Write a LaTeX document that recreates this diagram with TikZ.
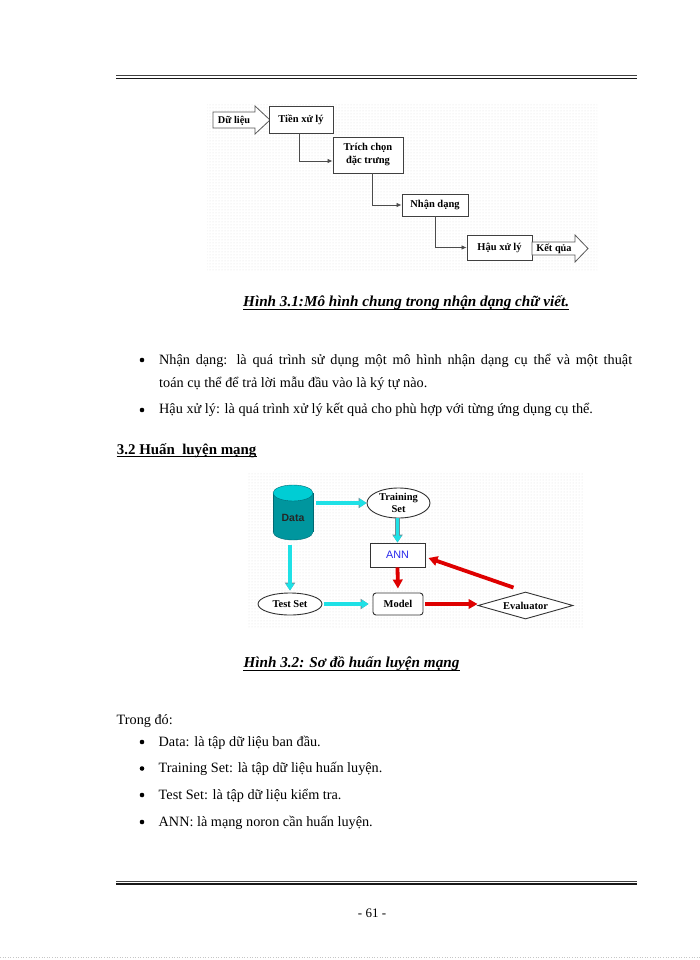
\documentclass[tikz,border=0pt]{standalone}
\usepackage{fontspec}
\setmainfont{Liberation Serif}
\newfontfamily\sansf{Liberation Sans}
\usetikzlibrary{shapes.geometric,arrows.meta,patterns}
\definecolor{cyanA}{RGB}{30,225,230}
\definecolor{cyanO}{RGB}{110,140,150}
\definecolor{tealbody}{RGB}{0,150,158}
\definecolor{tealtop}{RGB}{0,205,212}
\definecolor{tealdark}{RGB}{0,105,115}
\definecolor{redA}{RGB}{222,0,0}
\definecolor{annblue}{RGB}{40,40,235}
\begin{document}
\begin{tikzpicture}[x=1pt,y=-1pt,
  box/.style={draw=black!75, line width=0.9pt, inner sep=0pt, fill=white,
    font=\fontsize{10.5}{12}\selectfont\bfseries, align=center},
  lbl/.style={inner sep=0pt, font=\fontsize{10.3}{12}\selectfont\bfseries},
  blk/.style={draw=black!65, line width=0.8pt, fill=white},
  conn/.style={draw=black!70, line width=0.8pt, -{Latex[length=5pt,width=4.5pt]}},
  fig/.style={inner sep=0pt, font=\fontsize{10.5}{11.5}\selectfont\bfseries, align=center},
  cyanarrow/.style={draw=cyanA, line width=3.2pt,
    -{Triangle[length=7pt,width=8.5pt]},
    preaction={draw=cyanO, line width=4.6pt, -{Triangle[length=8pt,width=10pt]}}},
  redarrow/.style={draw=redA, line width=3.8pt, -{Triangle[length=9pt,width=9.5pt]}},
  body/.style={anchor=base west, inner sep=0pt, font=\fontsize{14.25}{16}\selectfont},
  captext/.style={anchor=base west, inner sep=0pt, font=\fontsize{15.2}{17}\selectfont\bfseries\itshape},
  bul/.style={circle, fill=black, inner sep=0pt, minimum size=4.6pt},
  rulethin/.style={draw=black!75, line width=1pt},
  rulethick/.style={draw=black!90, line width=1.6pt}
]
\useasboundingbox (0,0) rectangle (700,960);
\fill[white] (0,0) rectangle (700,960);

% header rule
\draw[rulethin] (116,75.5) -- (637,75.5);
\draw[rulethick] (116,78.5) -- (637,78.5);

% ---------- Figure 3.1 ----------
\fill[pattern=dots, pattern color=gray!25] (207,103) rectangle (597,270);

\draw[blk] (213,112) -- (255,112) -- (255,106) -- (270,120) -- (255,134) -- (255,128) -- (213,128) -- cycle;
\node[lbl] (dulieu) at (234,120.5) {Dữ liệu};

\node[box, minimum width=64pt, minimum height=27pt] (tien) at (301,119.5) {Tiền xử lý};
\node[box, minimum width=70pt, minimum height=36pt] (trich) at (368,155) {Trích chọn\\[1pt]đặc trưng};
\node[box, minimum width=66pt, minimum height=22pt] (nhan) at (435,205) {Nhận dạng};
\node[box, minimum width=65pt, minimum height=25pt] (hau) at (499.5,247.5) {Hậu xử lý};

\draw[blk] (532,242) -- (575,242) -- (575,235) -- (588,248.5) -- (575,262) -- (575,255) -- (532,255) -- cycle;
\node[lbl] (ketqua) at (554,249) {Kết qủa};

\draw[conn] ([xshift=-2pt]tien.south) |- ([yshift=-6pt]trich.west);
\draw[conn] ([xshift=4pt]trich.south) |- (nhan.west);
\draw[conn] (nhan.south) |- (hau.west);

\node[captext] (cap1) at (243,306.5) {Hình 3.1:Mô hình chung trong nhận dạng chữ viết.};
\draw[line width=0.8pt] ([yshift=-3.3pt]cap1.base west) -- ([yshift=-3.3pt]cap1.base east);

% bullets
\node[bul] (b1) at (142,360) {};
\node[body] (l1) at (159,364) {\makebox[473pt][s]{Nhận dạng: là quá trình sử dụng một mô hình nhận dạng cụ thể và một thuật}};
\node[body] (l2) at (159,387) {toán cụ thể để trả lời mẫu đầu vào là ký tự nào.};
\node[bul] (b2) at (142,410) {};
\node[body] (l3) at (159,413.3) {Hậu xử lý: là quá trình xử lý kết quả cho phù hợp với từng ứng dụng cụ thể.};

% heading
\node[body, font=\fontsize{14.9}{16}\selectfont\bfseries] (h32) at (116.7,454) {3.2 Huấn\hspace{0.5em}luyện mạng};
\draw[line width=0.8pt] ([yshift=-2.7pt]h32.base west) -- ([yshift=-2.7pt]h32.base east);

% ---------- Figure 3.2 ----------
\fill[pattern=dots, pattern color=gray!25] (247,473) rectangle (583,627);

\node[ellipse, draw=tealdark, fill=tealbody, minimum width=40pt, minimum height=16pt, inner sep=0pt] (cylbot) at (293,532) {};
\fill[tealbody] (273,493) rectangle (313,532);
\draw[tealdark] (273,493) -- (273,532) (313,493) -- (313,532);
\node[ellipse, draw=tealdark, fill=tealtop, minimum width=40pt, minimum height=16pt, inner sep=0pt] (cyltop) at (293,493) {};
\node[inner sep=0pt, minimum width=40pt, minimum height=56pt] (data) at (293,512.5) {};
\node[inner sep=0pt, font=\sansf\bfseries\fontsize{10.5}{12}\selectfont, text=black!85] (datalbl) at (293,518) {Data};

\node[ellipse, draw=black!80, line width=0.9pt, fill=white, minimum width=63pt, minimum height=30pt, inner sep=0pt, fig] (train) at (398.5,503) {Training\\Set};
\node[draw=black!80, line width=0.9pt, fill=white, minimum width=55pt, minimum height=24pt, inner sep=0pt,
      font=\sansf\fontsize{10.8}{12}\selectfont, text=annblue] (ann) at (397.5,555) {ANN};
\node[ellipse, draw=black!80, line width=0.9pt, fill=white, minimum width=64pt, minimum height=22pt, inner sep=0pt, fig] (test) at (290,604) {Test Set};
\node[draw=black!80, line width=0.9pt, fill=white, rounded corners=3pt, minimum width=50pt, minimum height=22pt, inner sep=0pt, fig] (model) at (398,604) {Model};
\node[diamond, aspect=3.5, draw=black!80, line width=0.9pt, fill=white, minimum width=95pt, minimum height=27pt, inner sep=0pt, fig] (eval) at (525.5,605.5) {Evaluator};

\draw[cyanarrow, shorten <=3pt] (data.east |- train.west) -- (train.west);
\draw[cyanarrow] (ann.north |- train.south) -- (ann.north);
\draw[cyanarrow, shorten <=4pt, shorten >=2pt] (test.north |- data.south) -- (test.north);
\draw[cyanarrow, shorten <=2pt, shorten >=4pt] (test.east) -- (model.west);
\draw[redarrow, shorten >=4pt] (ann.south) -- (model.north);
\draw[redarrow, shorten <=2pt] (model.east) -- (model.east -| eval.west);
\draw[redarrow] ([xshift=-12pt,yshift=4pt]eval.north) -- ([xshift=3pt,yshift=-3pt]ann.east);

\node[captext] (cap2) at (243.3,667) {Hình 3.2: Sơ đồ huấn luyện mạng};
\draw[line width=0.8pt] ([yshift=-3.3pt]cap2.base west) -- ([yshift=-3.3pt]cap2.base east);

\node[body] (trong) at (116.5,724) {Trong đó:};
\node[bul] (c1) at (142,742) {};
\node[body] (t1) at (158.5,746) {Data: là tập dữ liệu ban đầu.};
\node[bul] (c2) at (142,768.5) {};
\node[body] (t2) at (158.5,772.5) {Training Set: là tập dữ liệu huấn luyện.};
\node[bul] (c3) at (142,795) {};
\node[body] (t3) at (158.5,799) {Test Set: là tập dữ liệu kiểm tra.};
\node[bul] (c4) at (142,822) {};
\node[body] (t4) at (158.5,826) {ANN: là mạng noron cần huấn luyện.};

% footer
\draw[rulethin] (116,881) -- (637,881);
\draw[rulethick] (116,884) -- (637,884);
\node[inner sep=0pt, anchor=base, font=\fontsize{13}{15}\selectfont] (page) at (372,917) {- 61 -};
\draw[gray!45, dotted, line width=0.6pt] (0,957) -- (700,957);
\end{tikzpicture}
\end{document}
